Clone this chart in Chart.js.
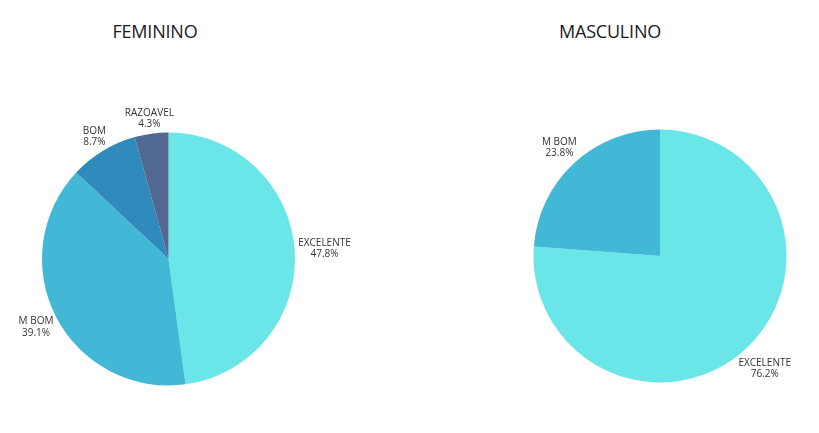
<!DOCTYPE html>
<html>
<head>
<meta charset="utf-8">
<script src="https://cdn.jsdelivr.net/npm/chart.js@4/dist/chart.umd.min.js"></script>
<style>
    body { margin: 0; background: #fff; width: 819px; height: 433px; position: relative; overflow: hidden; }
    .painel { position: absolute; top: 0; height: 433px; }
    .titulo { position: absolute; font-family: "Open Sans", sans-serif; font-size: 18px; color: #1a1a1a; transform: translateX(-50%); white-space: nowrap; letter-spacing: -0.2px; }
</style>
</head>
<body>
<div class="titulo" style="left:155px; top:19px;">FEMININO</div>
<div class="titulo" style="left:610px; top:19px;">MASCULINO</div>
<div class="painel" style="left:0; width:410px;"><canvas id="grafico-feminino"></canvas></div>
<div class="painel" style="left:410px; width:409px;"><canvas id="grafico-masculino"></canvas></div>
<script>
// Dados
const categoriasFeminino = ['EXCELENTE', 'M BOM', 'BOM', 'RAZOAVEL'];
const valoresFeminino = [47.8, 39.1, 8.7, 4.3];
const categoriasMasculino = ['EXCELENTE', 'M BOM'];
const valoresMasculino = [76.2, 23.8];

const cores = {
    'EXCELENTE': '#6ae5e8',
    'M BOM': '#43b8d6',
    'BOM': '#2e8bbb',
    'RAZOAVEL': '#506892'
};

// Rótulos fora das fatias (nome + percentual)
const rotulosExternos = {
    id: 'rotulosExternos',
    afterDatasetsDraw(chart) {
        const ctx = chart.ctx;
        const meta = chart.getDatasetMeta(0);
        const labels = chart.data.labels;
        const valores = chart.data.datasets[0].data;
        ctx.save();
        ctx.font = '10px "Open Sans", sans-serif';
        ctx.fillStyle = '#333';
        ctx.textAlign = 'center';
        ctx.textBaseline = 'middle';
        const alturaLinha = 11.5;
        meta.data.forEach((arco, i) => {
            const p = arco.getProps(['x', 'y', 'startAngle', 'endAngle', 'outerRadius'], true);
            const meio = (p.startAngle + p.endAngle) / 2;
            const linha1 = labels[i];
            const linha2 = valores[i].toFixed(1) + '%';
            const meiaLarg = Math.max(ctx.measureText(linha1).width, ctx.measureText(linha2).width) / 2;
            const meiaAlt = 9;
            const cos = Math.cos(meio), sin = Math.sin(meio);
            const r = p.outerRadius + 3 + meiaLarg * Math.abs(cos) + meiaAlt * Math.abs(sin);
            const cx = p.x + r * cos;
            const cy = p.y + r * sin;
            ctx.fillText(linha1, cx, cy - alturaLinha / 2);
            ctx.fillText(linha2, cx, cy + alturaLinha / 2);
        });
        ctx.restore();
    }
};

function criarPizza(id, categorias, valores, padding) {
    new Chart(document.getElementById(id), {
        type: 'pie',
        data: {
            labels: categorias,
            datasets: [{
                data: valores,
                backgroundColor: categorias.map(c => cores[c]),
                borderWidth: 0
            }]
        },
        options: {
            responsive: true,
            maintainAspectRatio: false,
            animation: false,
            layout: { padding: padding },
            plugins: {
                legend: { display: false },
                tooltip: { enabled: false }
            }
        },
        plugins: [rotulosExternos]
    });
}

criarPizza('grafico-feminino', categoriasFeminino, valoresFeminino,
    { left: 42, right: 115, top: 132.5, bottom: 47.5 });
criarPizza('grafico-masculino', categoriasMasculino, valoresMasculino,
    { left: 123.5, right: 32.5, top: 129.5, bottom: 50.5 });
</script>
</body>
</html>
